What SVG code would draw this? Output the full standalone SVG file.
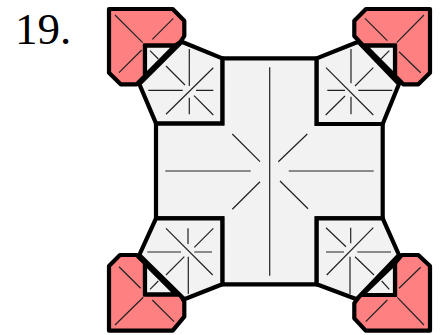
<svg xmlns="http://www.w3.org/2000/svg" width="443" height="335" viewBox="0 0 443 335">
<style>
.r{fill:#ff8080;stroke:#000;stroke-width:4.2;stroke-linejoin:round}
.t{fill:#f2f2f2;stroke:#000;stroke-width:4.2;stroke-linejoin:miter}
.b{fill:#f2f2f2;stroke:#000;stroke-width:4.2;stroke-linejoin:miter}
.f{stroke:#222;stroke-width:1.2;fill:none}
text{font-family:"Liberation Serif","Times New Roman",serif;font-size:45px;fill:#000}
</style>
<rect width="443" height="335" fill="#fff"/>
<text x="15" y="44">19.</text>
<g id="flap-tl">
<polygon class="r" points="109,9 172.7,9 184.3,20.7 184.3,36 180.7,41.7 175,45.7 145,45.7 145,76 136.7,84.3 120.7,84.3 109,72.7"/>
<polygon class="t" points="145,45.7 175,45.7 145,76"/>
<path class="f" d="M115,15L142.7,42.7M173.3,18.3L152.3,39.3M119,72.7L141.7,50M150,50.7L158.3,59"/>
</g>
<g id="flap-tr">
<polygon class="r" points="366,9 430,9 430,72.7 418.3,84.3 403.3,84.3 395,76 395,45.7 363.3,45.7 354.3,36 354.3,20.7"/>
<polygon class="t" points="395,45.7 365,45.7 395,76"/>
<path class="f" d="M365,18.3L387.3,40.7M424,15L396.7,42.7M399,51.7L420.7,72.7M389.3,50.7L381,59"/>
</g>
<g id="flap-bl">
<polygon class="r" points="109,266 120,255 136.7,255 145,263.3 145,294.3 180,294.3 184.3,301.7 184.3,316.7 172.7,330.7 109,330.7"/>
<polygon class="t" points="145,263.3 145,294.3 176,294.3"/>
<path class="f" d="M119,266.7L140.7,288.3M143.3,297.3L115,325M152.3,300L174,321.7M150,289.3L158.3,281"/>
</g>
<g id="flap-br">
<polygon class="r" points="401.7,255 418.3,255 430,266 430,330.7 365.7,330.7 354.3,318.3 354.3,303.3 360,295 395,295 395,263.3"/>
<polygon class="t" points="395,263.3 395,295 362,295"/>
<path class="f" d="M420.7,267.3L399,288.3M387.3,300L365.7,321.7M397.3,297.3L424,325M381.7,281L389.3,289.3"/>
</g>
<g id="body">
<polygon class="b" points="156,123.3 222.3,123.3 222.3,58.3 316.7,58.3 316.7,124 382.7,124 382.7,218.3 316.7,218.3 316.7,284.3 222.3,284.3 222.3,218.3 156,218.3"/>
<path class="f" d="M269.7,67.3V275.7M232.3,134L260,161.7M307.3,134L278.3,161.7M165.3,171H250.7M288.7,171H373.7M260,181.7L232.3,209.3M280,181L308,208.7"/>
</g>
<g id="pentagon-tl">
<polygon class="b" points="181.7,41.7 222.3,58.3 222.3,123.3 156,123.3 139.3,84"/>
<path class="f" d="M166,66L185,85M213.3,67.7L166,114.3M189.3,49V86M148.3,90.3H182.7M196,90.3H213.3M189.3,97.7V114.3M194,95.7L213.3,115"/>
</g>
<g id="pentagon-tr">
<polygon class="b" points="358.3,41.7 316.7,58.3 316.7,124 382.7,124 399,84"/>
<path class="f" d="M351,49V83.3M373.3,67.7L355,86M326,67.7L373.3,115M327.3,90.3H345M358.3,90.3H392.3M351,96.7V114.3M345,96L325.7,115"/>
</g>
<g id="pentagon-bl">
<polygon class="b" points="156,218.3 222.3,218.3 222.3,284.3 184.3,299.3 139.3,255"/>
<path class="f" d="M166,228.3L212.7,275M213.3,228.3L194.3,247.3M188,228.3V244M147.3,252H181M194.3,252H212M184.3,256.7L166,275M188.3,256.7V294"/>
</g>
<g id="pentagon-br">
<polygon class="b" points="316.7,218.3 382.7,218.3 399,255 356.7,299.3 316.7,284.3"/>
<path class="f" d="M326,227.7L346,246.7M373.3,227.7L326.7,275M350.7,227.7V243.3M326,252H344M357.3,252H391M350,256.7V294M355,256.7L374,275"/>
</g>
</svg>
